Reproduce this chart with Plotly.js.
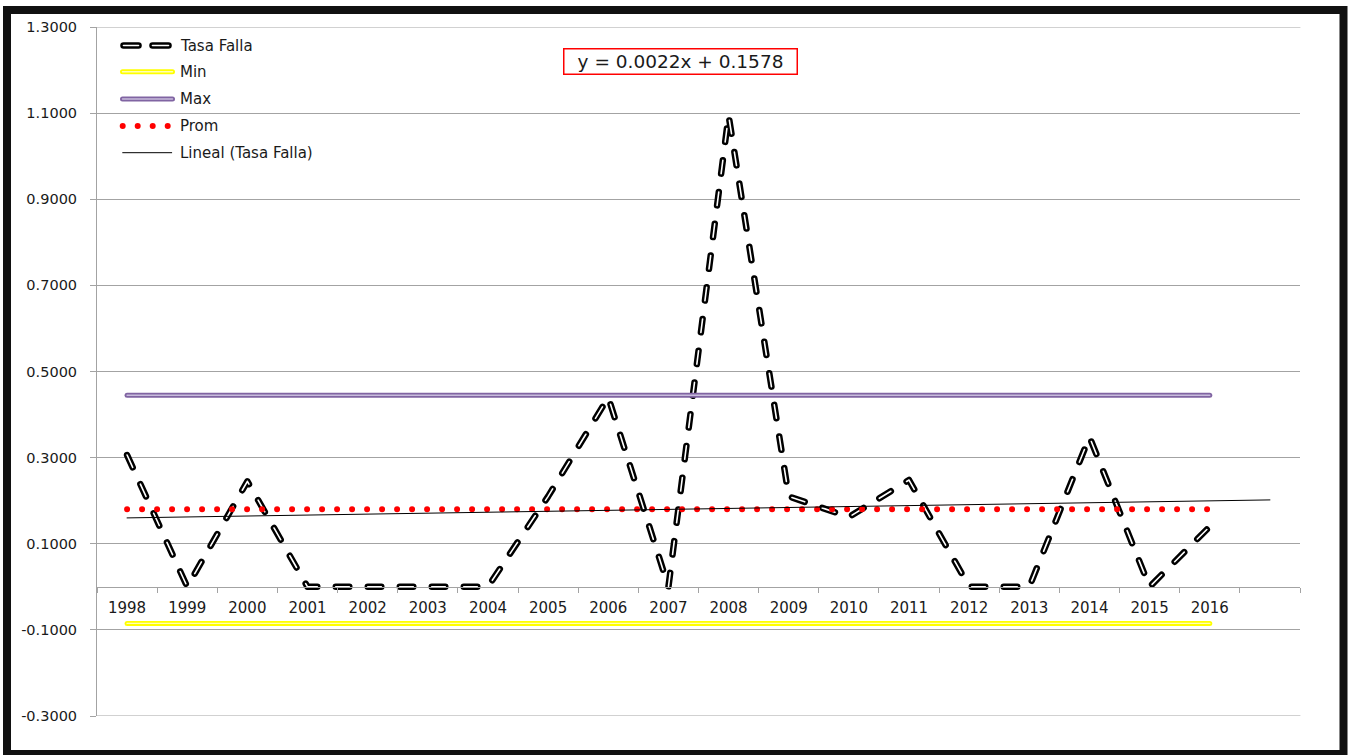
<!DOCTYPE html>
<html>
<head>
<meta charset="utf-8">
<script src="https://cdn.plot.ly/plotly-3.0.1.min.js"></script>
<style>
  html, body { margin: 0; padding: 0; background: #ffffff; overflow: hidden; }
  #chart { width: 1349px; height: 755px; }
  /* rounded dash ends and joins, like the spreadsheet line style */
  .scatterlayer .js-line { stroke-linecap: round; stroke-linejoin: round; }
  .shapelayer path { stroke-linecap: round; }
</style>
</head>
<body>
<div id="chart"></div>
<script>
// ---- data ----
const years = ['1998', '1999', '2000', '2001', '2002', '2003', '2004', '2005', '2006', '2007',
               '2008', '2009', '2010', '2011', '2012', '2013', '2014', '2015', '2016'];
const tasaFalla = [0.306, 0, 0.245, 0, 0, 0, 0, 0.21, 0.44, 0,
                   1.095, 0.21, 0.162, 0.248, 0, 0, 0.348, 0, 0.14];
const minSerie  = [-0.085, -0.085, -0.085, -0.085, -0.085, -0.085, -0.085, -0.085, -0.085, -0.085,
                   -0.085, -0.085, -0.085, -0.085, -0.085, -0.085, -0.085, -0.085, -0.085];
const maxSerie  = [0.445, 0.445, 0.445, 0.445, 0.445, 0.445, 0.445, 0.445, 0.445, 0.445,
                   0.445, 0.445, 0.445, 0.445, 0.445, 0.445, 0.445, 0.445, 0.445];
const promSerie = [0.18, 0.18, 0.18, 0.18, 0.18, 0.18, 0.18, 0.18, 0.18, 0.18,
                   0.18, 0.18, 0.18, 0.18, 0.18, 0.18, 0.18, 0.18, 0.18];
// linear trend of Tasa Falla: y = slope * x + intercept, x = 1 for the first year
const trendCoef = [0.0022, 0.1578];
const trendSpan = [1, 20];            // first year to one period of forecast
const trendLabel = 'y = 0.0022x + 0.1578';
const yTicks = [-0.3, -0.1, 0.1, 0.3, 0.5, 0.7, 0.9, 1.1, 1.3];
const legendNames = ['Tasa Falla', 'Min', 'Max', 'Prom', 'Lineal (Tasa Falla)'];

// ---- geometry ----
const W = 1349, H = 755;
const M = { l: 97, r: 49, t: 27, b: 39 };
const plotW = W - M.l - M.r, plotH = H - M.t - M.b;
const px = x => (x - M.l) / plotW;          // page pixel -> paper x
const py = y => (H - M.b - y) / plotH;      // page pixel -> paper y
const yRange = [-0.3, 1.3];
const nSlots = years.length + 1;            // one empty slot after the last year
const xRange = [-0.5, nSlots - 0.5];

const idx = years.map((_, i) => i);
const boundaries = [];
for (let i = 0; i <= nSlots; i++) boundaries.push(i - 0.5);

const FONT = 'DejaVu Sans, Arial, sans-serif';
const TXT = '#1a1a1a';
const GRID = '#a3a3a3';
const DASH = '13.5px,18.5px';

const traces = [
  { x: idx, y: tasaFalla, mode: 'lines', name: legendNames[0],
    line: { color: '#000000', width: 6.5, dash: DASH } },
  { x: idx, y: tasaFalla, mode: 'lines', name: legendNames[0],
    line: { color: '#ffffff', width: 1.6, dash: DASH } },
  { x: idx, y: minSerie, mode: 'lines', name: legendNames[1],
    line: { color: '#ffff00', width: 5 } },
  { x: idx, y: minSerie, mode: 'lines', name: legendNames[1],
    line: { color: '#ffffb8', width: 1.4 } },
  { x: idx, y: maxSerie, mode: 'lines', name: legendNames[2],
    line: { color: '#8064a2', width: 5 } },
  { x: idx, y: maxSerie, mode: 'lines', name: legendNames[2],
    line: { color: '#c8bcdc', width: 1.4 } },
  { x: idx, y: promSerie, mode: 'lines', name: legendNames[3],
    line: { color: '#ff0000', width: 6, dash: '0px,15px' } },
  { x: trendSpan.map(v => v - 1), y: trendSpan.map(v => trendCoef[0] * v + trendCoef[1]),
    mode: 'lines', name: legendNames[4], line: { color: '#000000', width: 1 } }
];

// ---- hand-drawn legend ----
const rows = [45.5, 71.7, 99, 126, 152.7];
const shapes = [];
const annotations = [];
function seg(x0, x1, y, color, width, dash) {
  shapes.push({ type: 'line', xref: 'paper', yref: 'paper',
    x0: px(x0), x1: px(x1), y0: py(y), y1: py(y),
    line: { color: color, width: width, dash: dash || 'solid' } });
}
// Tasa Falla sample: two outlined dashes
[[123.5, 138.5], [152.5, 168.5]].forEach(([a, b]) => {
  seg(a, b, rows[0], '#000000', 6.5);
  seg(a, b, rows[0], '#ffffff', 1.6);
});
seg(122.5, 172.5, rows[1], '#ffff00', 5);
seg(122.5, 172.5, rows[1], '#ffffb8', 1.4);
seg(122.5, 172.5, rows[2], '#8064a2', 5);
seg(122.5, 172.5, rows[2], '#c8bcdc', 1.4);
seg(122.7, 168, rows[3], '#ff0000', 6, '0px,15px');
seg(122.7, 171.7, rows[4], '#000000', 1);
legendNames.forEach((n, i) => {
  annotations.push({ text: n, xref: 'paper', yref: 'paper', x: px(178), y: py(rows[i]),
    xanchor: 'left', yanchor: 'middle', showarrow: false,
    font: { family: FONT, size: 15, color: TXT } });
});

// gridlines on the top and bottom edges of the value range
[yRange[0], yRange[1]].forEach(v => {
  shapes.push({ type: 'line', xref: 'paper', yref: 'y', x0: 0, x1: 1, y0: v, y1: v,
    layer: 'below', line: { color: GRID, width: 1 } });
});

// trend equation box
annotations.push({ text: trendLabel, xref: 'paper', yref: 'paper',
  x: px(680.8), y: py(61.2), xanchor: 'center', yanchor: 'middle', showarrow: false,
  width: 232, height: 24, borderpad: 0, borderwidth: 1.5, bordercolor: '#ff0000',
  bgcolor: '#ffffff', font: { family: FONT, size: 18.5, color: TXT } });

// outer chart frame
shapes.push({ type: 'rect', xref: 'paper', yref: 'paper', layer: 'above',
  x0: px(7), x1: px(1343.5), y0: py(754), y1: py(10),
  line: { color: '#111111', width: 8 } });

const layout = {
  width: W, height: H,
  margin: M,
  paper_bgcolor: '#ffffff', plot_bgcolor: '#ffffff',
  showlegend: false,
  hovermode: false,
  xaxis: {
    type: 'linear', range: xRange, anchor: 'free',
    position: (0 - yRange[0]) / (yRange[1] - yRange[0]),
    showline: true, linecolor: GRID, linewidth: 1,
    showgrid: false, zeroline: false,
    tickmode: 'array', tickvals: idx, ticktext: years,
    ticks: '', ticklabelstandoff: 7,
    tickfont: { family: FONT, size: 15, color: TXT },
    minor: { tickmode: 'array', tickvals: boundaries, ticks: 'outside', ticklen: 5,
             tickcolor: GRID, tickwidth: 1, showgrid: false }
  },
  yaxis: {
    range: yRange, anchor: 'x',
    showline: true, linecolor: GRID, linewidth: 1,
    showgrid: true, gridcolor: GRID, gridwidth: 1, zeroline: false,
    tickmode: 'array', tickvals: yTicks, ticktext: yTicks.map(v => v.toFixed(4)),
    ticks: 'outside', ticklen: 6, tickcolor: GRID,
    ticklabelstandoff: 10,
    tickfont: { family: FONT, size: 14.5, color: TXT }
  },
  shapes: shapes,
  annotations: annotations
};

Plotly.newPlot('chart', traces, layout, { staticPlot: true, displayModeBar: false });
</script>
</body>
</html>
